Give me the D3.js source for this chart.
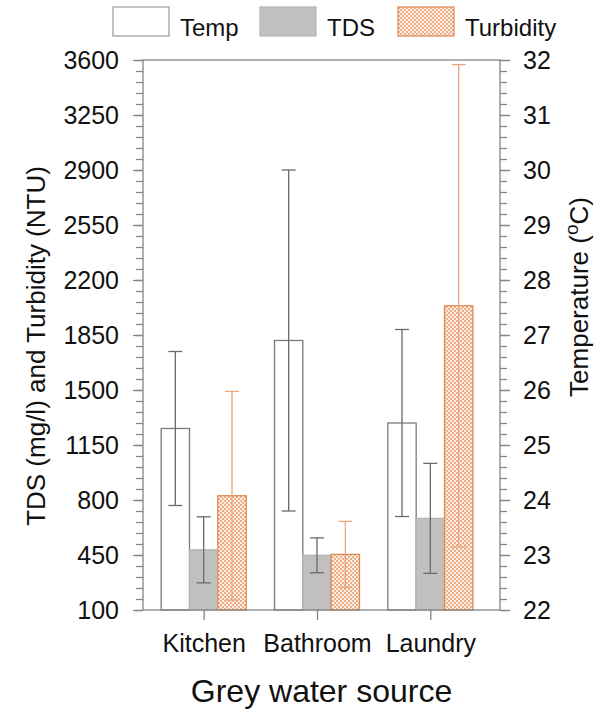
<!DOCTYPE html>
<html>
<head>
<meta charset="utf-8">
<script src="https://cdn.jsdelivr.net/npm/d3@7/dist/d3.min.js"></script>
<style>
  html, body { margin: 0; padding: 0; background: #fff; }
  svg text { font-family: "Liberation Sans", Arial, sans-serif; fill: #111; }
</style>
</head>
<body>
<svg id="chart" width="595" height="709"></svg>
<script>
// Grey water quality by source: mean ± SD
const categories = ["Kitchen", "Bathroom", "Laundry"];
const seriesNames = ["Temp", "TDS", "Turbidity"];
const tempMean = [25.3, 26.9, 25.4];
const tempSD   = [1.4, 3.1, 1.7];
const tdsMean  = [483, 448, 683];
const tdsSD    = [210, 111, 350];
const turbMean = [827, 454, 2036];
const turbSD   = [664, 210, 1535];
const leftTicks  = [100, 450, 800, 1150, 1500, 1850, 2200, 2550, 2900, 3250, 3600];
const rightTicks = [22, 23, 24, 25, 26, 27, 28, 29, 30, 31, 32];

const svg = d3.select("#chart");
const plot = { left: 143, right: 500, top: 60, bottom: 610 };
const frameColor = "#858585";

// small orange checkerboard used for turbidity bars
const defs = svg.append("defs");
const pat = defs.append("pattern").attr("id", "checks")
  .attr("patternUnits", "userSpaceOnUse").attr("width", 4).attr("height", 4);
pat.append("rect").attr("width", 4).attr("height", 4).attr("fill", "#fcefe6");
pat.append("rect").attr("width", 2).attr("height", 2).attr("fill", "#eeaf88");
pat.append("rect").attr("x", 2).attr("y", 2).attr("width", 2).attr("height", 2).attr("fill", "#eeaf88");

const yLeft = d3.scaleLinear().domain([100, 3600]).range([plot.bottom, plot.top]);
const yRight = d3.scaleLinear().domain([22, 32]).range([plot.bottom, plot.top]);
const x0 = d3.scaleBand().domain(categories)
  .range([plot.left + 4, plot.left + 344]).paddingInner(0.25).paddingOuter(0.125);
const x1 = d3.scaleBand().domain(seriesNames).range([0, x0.bandwidth()]);

const styles = {
  Temp:      { fill: "#fff", stroke: "#7a7a7a", err: "#6a6a6a" },
  TDS:       { fill: "#c0c0c0", stroke: "#b4b4b4", err: "#6a6a6a" },
  Turbidity: { fill: "url(#checks)", stroke: "#de8a55", err: "#eba77c" }
};

const rows = [];
categories.forEach((c, i) => {
  rows.push({ cat: c, s: "Temp", m: tempMean[i], sd: tempSD[i], y: yRight, base: 22 });
  rows.push({ cat: c, s: "TDS", m: tdsMean[i], sd: tdsSD[i], y: yLeft, base: 100 });
  rows.push({ cat: c, s: "Turbidity", m: turbMean[i], sd: turbSD[i], y: yLeft, base: 100 });
});

// bars
svg.append("g").selectAll("rect").data(rows).join("rect")
  .attr("x", d => x0(d.cat) + x1(d.s))
  .attr("y", d => d.y(d.m))
  .attr("width", x1.bandwidth())
  .attr("height", d => d.y(d.base) - d.y(d.m))
  .attr("fill", d => styles[d.s].fill)
  .attr("stroke", d => styles[d.s].stroke)
  .attr("stroke-width", 1.3);

// error bars
const capHalf = 7;
const eg = svg.append("g").selectAll("g").data(rows).join("g")
  .attr("stroke", d => styles[d.s].err).attr("stroke-width", 1.3).attr("fill", "none");
eg.append("line")
  .attr("x1", d => x0(d.cat) + x1(d.s) + x1.bandwidth() / 2)
  .attr("x2", d => x0(d.cat) + x1(d.s) + x1.bandwidth() / 2)
  .attr("y1", d => d.y(d.m + d.sd)).attr("y2", d => d.y(d.m - d.sd));
[1, -1].forEach(sign => {
  eg.append("line")
    .attr("x1", d => x0(d.cat) + x1(d.s) + x1.bandwidth() / 2 - capHalf)
    .attr("x2", d => x0(d.cat) + x1(d.s) + x1.bandwidth() / 2 + capHalf)
    .attr("y1", d => d.y(d.m + sign * d.sd)).attr("y2", d => d.y(d.m + sign * d.sd));
});

// frame
svg.append("rect")
  .attr("x", plot.left).attr("y", plot.top)
  .attr("width", plot.right - plot.left).attr("height", plot.bottom - plot.top)
  .attr("fill", "none").attr("stroke", frameColor).attr("stroke-width", 1.3);

// minor ticks every 1/5 of a major step
const leftMinor = d3.range(100, 3600.1, 70);
const rightMinor = d3.range(22, 32.01, 0.2);

function styleAxis(g) {
  g.select(".domain").remove();
  g.selectAll(".tick line").attr("stroke", frameColor).attr("stroke-width", 1.3);
  g.selectAll(".tick text").style("font-size", "25px").attr("fill", "#111");
}

svg.append("g").attr("transform", `translate(${plot.left},0)`)
  .call(d3.axisLeft(yLeft).tickValues(leftMinor).tickSize(7).tickFormat(""))
  .call(styleAxis);
svg.append("g").attr("transform", `translate(${plot.left},0)`)
  .call(d3.axisLeft(yLeft).tickValues(leftTicks).tickSize(10).tickPadding(14).tickFormat(d3.format("d")))
  .call(styleAxis);

svg.append("g").attr("transform", `translate(${plot.right},0)`)
  .call(d3.axisRight(yRight).tickValues(rightMinor).tickSize(7).tickFormat(""))
  .call(styleAxis);
svg.append("g").attr("transform", `translate(${plot.right},0)`)
  .call(d3.axisRight(yRight).tickValues(rightTicks).tickSize(10).tickPadding(13).tickFormat(d3.format("d")))
  .call(styleAxis);

// category axis
const xCenter = d3.scalePoint().domain(categories)
  .range([x0(categories[0]) + x0.bandwidth() / 2, x0(categories[2]) + x0.bandwidth() / 2]);
svg.append("g").attr("transform", `translate(0,${plot.bottom})`)
  .call(d3.axisBottom(xCenter).tickSize(10).tickPadding(14))
  .call(styleAxis);

// axis titles
svg.append("text")
  .attr("transform", `translate(45,346) rotate(-90)`)
  .attr("text-anchor", "middle").style("font-size", "26px")
  .text("TDS (mg/l) and Turbidity (NTU)");

const rt = svg.append("text")
  .attr("transform", `translate(588,297) rotate(-90)`)
  .attr("text-anchor", "middle").style("font-size", "26px");
rt.append("tspan").text("Temperature (");
rt.append("tspan").attr("dy", -10).style("font-size", "19px").text("o");
rt.append("tspan").attr("dy", 10).text("C)");

svg.append("text")
  .attr("x", (plot.left + plot.right) / 2).attr("y", 702)
  .attr("text-anchor", "middle").style("font-size", "32px")
  .text("Grey water source");

// legend
const legendX = [113, 260, 398];
const lg = svg.append("g").selectAll("g").data(seriesNames).join("g")
  .attr("transform", (d, i) => `translate(${legendX[i]},7)`);
lg.append("rect").attr("width", 56).attr("height", 29)
  .attr("fill", d => styles[d].fill).attr("stroke", d => d === "Temp" ? "#9a9a9a" : styles[d].stroke)
  .attr("stroke-width", 1.2);
lg.append("text").attr("x", 67).attr("y", 29).style("font-size", "24px").text(d => d);
</script>
</body>
</html>
